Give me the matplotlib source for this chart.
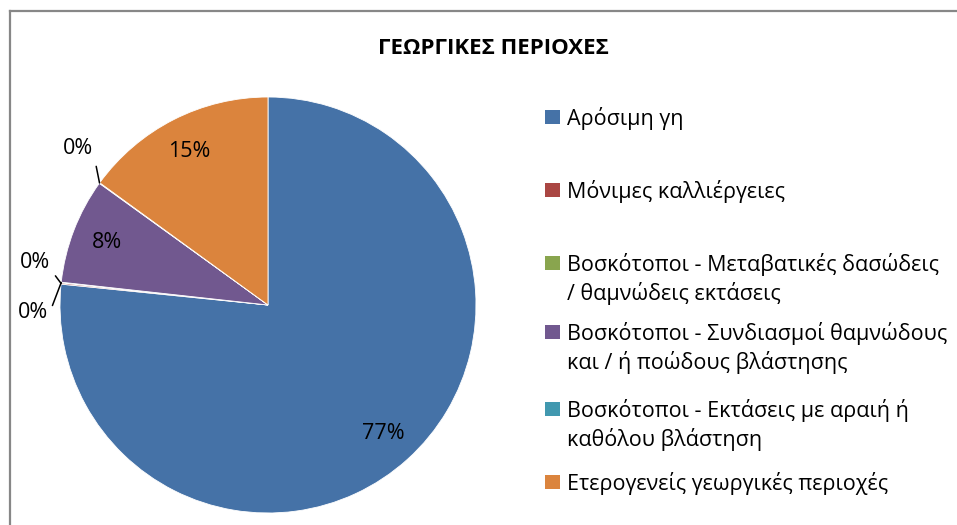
import numpy as np
import matplotlib
matplotlib.use("Agg")
import matplotlib.pyplot as plt
from matplotlib.patches import Rectangle
from matplotlib.lines import Line2D

plt.rcParams['font.family'] = ['Open Sans', 'DejaVu Sans']

# ΓΕΩΡΓΙΚΕΣ ΠΕΡΙΟΧΕΣ - ποσοστά ανά κατηγορία
labels = [
    "Αρόσιμη γη",
    "Μόνιμες καλλιέργειες",
    "Βοσκότοποι - Μεταβατικές δασώδεις\n/ θαμνώδεις εκτάσεις",
    "Βοσκότοποι - Συνδιασμοί θαμνώδους\nκαι / ή ποώδους βλάστησης",
    "Βοσκότοποι - Εκτάσεις με αραιή ή\nκαθόλου βλάστηση",
    "Ετερογενείς γεωργικές περιοχές",
]
values = [76.6, 0.1, 0.05, 8.2, 0.05, 15.0]
colors = ["#4572A7", "#AA4643", "#89A54E", "#71588F", "#4198AF", "#DB843D"]

W, H = 957, 525
FS = 15.5
fig = plt.figure(figsize=(W / 100, H / 100), dpi=100)

# πλαίσιο γραφήματος (αριστερά και πάνω)
fig.add_artist(Line2D([9.5 / W, 9.5 / W], [0, 1 - 10.5 / H], color="#878787", lw=1.6))
fig.add_artist(Line2D([9.5 / W, 1], [1 - 10.5 / H, 1 - 10.5 / H], color="#878787", lw=1.6))

fig.text(493 / W, 1 - 48 / H, "ΓΕΩΡΓΙΚΕΣ ΠΕΡΙΟΧΕΣ", ha="center", va="center",
         fontsize=16, fontweight="bold")

cx, cy, r = 268, 305, 208
ax = fig.add_axes([(cx - r) / W, (H - cy - r) / H, 2 * r / W, 2 * r / H])
wedges, _ = ax.pie(values, colors=colors, startangle=90, counterclock=False,
                   radius=1, wedgeprops=dict(edgecolor="white", linewidth=0.6))
ax.set_xlim(-1, 1)
ax.set_ylim(-1, 1)
ax.set_aspect("equal")
ax.axis("off")

total = sum(values)
# μικρές φέτες: ετικέτα έξω με γραμμή οδηγό (offset σε points, relpos)
small = {
    1: ((-7.9, 15.1), (1, 0.2)),
    2: ((-9.4, -21.6), (1, 0.3)),
    4: ((-4.3, 24.5), (1, 0.3)),
}
for i, (w, v) in enumerate(zip(wedges, values)):
    pct = "%.0f%%" % (100 * v / total)
    ang = np.deg2rad((w.theta1 + w.theta2) / 2)
    if i in small:
        off, rel = small[i]
        ax.annotate(pct, xy=(np.cos(ang), np.sin(ang)), xytext=off,
                    textcoords="offset points", ha="right", va="center", fontsize=FS,
                    arrowprops=dict(arrowstyle="-", color="black", lw=1.1,
                                    relpos=rel, shrinkA=3, shrinkB=0))
    else:
        ax.text(0.83 * np.cos(ang), 0.83 * np.sin(ang), pct, ha="center", va="center",
                fontsize=FS)

# υπόμνημα
rows = [117, 190, 263, 332, 409, 482]
for lab, c, yy in zip(labels, colors, rows):
    fig.add_artist(Rectangle((545 / W, 1 - (yy + 7) / H), 15 / W, 14 / H,
                             facecolor=c, edgecolor="none"))
    fig.text(567 / W, 1 - (yy - 10) / H, lab, ha="left", va="top", fontsize=FS,
             linespacing=1.35)

fig.savefig("out.png", dpi=100, facecolor="white")
